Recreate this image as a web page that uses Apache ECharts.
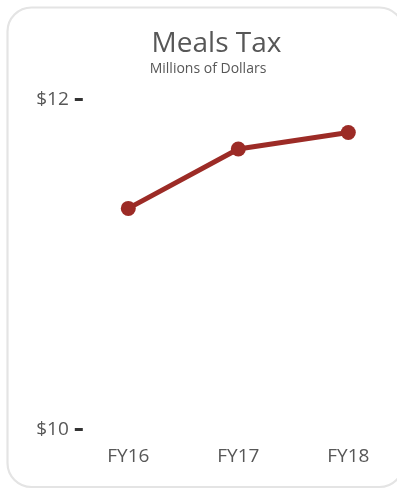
<!DOCTYPE html>
<html>
<head>
<meta charset="utf-8">
<script src="https://cdn.jsdelivr.net/npm/echarts@6/dist/echarts.min.js"></script>
<style>
  html, body { margin: 0; padding: 0; background: #ffffff; }
  #chart { width: 397px; height: 489px; }
</style>
</head>
<body>
<div id="chart"></div>
<script>
// Fiscal years and meals tax revenue (millions of dollars)
const categories = ['FY16', 'FY17', 'FY18'];
const mealsTax = [11.34, 11.70, 11.80];
const yTicks = [10, 12];

const FONT = '"Open Sans", "DejaVu Sans", sans-serif';
const TEXT = '#575757';

const chart = echarts.init(document.getElementById('chart'), null, { renderer: 'canvas' });

chart.setOption({
  animation: false,
  backgroundColor: '#ffffff',
  graphic: [
    {
      type: 'rect',
      z: -1,
      shape: { x: 7.5, y: 7.5, width: 396, height: 479.5, r: 24 },
      style: { fill: '#ffffff', stroke: '#e4e4e4', lineWidth: 2.2 }
    },
    {
      type: 'text',
      style: {
        x: 216.5, y: 44, text: 'Meals Tax',
        textAlign: 'center', textVerticalAlign: 'middle',
        font: '28px ' + FONT, fill: TEXT
      }
    },
    {
      type: 'text',
      style: {
        x: 208, y: 69, text: 'Millions of Dollars',
        textAlign: 'center', textVerticalAlign: 'middle',
        font: '14px ' + FONT, fill: TEXT
      }
    }
  ],
  grid: { left: 128.3, right: 48.7, top: 99.5, bottom: 59.5, containLabel: false },
  xAxis: {
    type: 'category',
    data: categories,
    boundaryGap: false,
    axisLine: { show: false },
    axisTick: { show: false },
    splitLine: { show: false },
    axisLabel: { margin: 18, fontSize: 19, fontFamily: FONT, color: TEXT }
  },
  yAxis: {
    type: 'value',
    min: yTicks[0],
    max: yTicks[yTicks.length - 1],
    interval: yTicks[1] - yTicks[0],
    offset: 45.5,
    axisLine: { show: false },
    axisTick: { show: true, length: 8, lineStyle: { color: '#333333', width: 3 } },
    splitLine: { show: false },
    axisLabel: {
      margin: 14, fontSize: 19, fontFamily: FONT, color: TEXT,
      formatter: v => '$' + v
    }
  },
  series: [{
    type: 'line',
    data: mealsTax,
    symbol: 'circle',
    symbolSize: 15,
    lineStyle: { color: '#9c2b26', width: 5 },
    itemStyle: { color: '#9c2b26' },
    z: 3
  }]
});
</script>
</body>
</html>
